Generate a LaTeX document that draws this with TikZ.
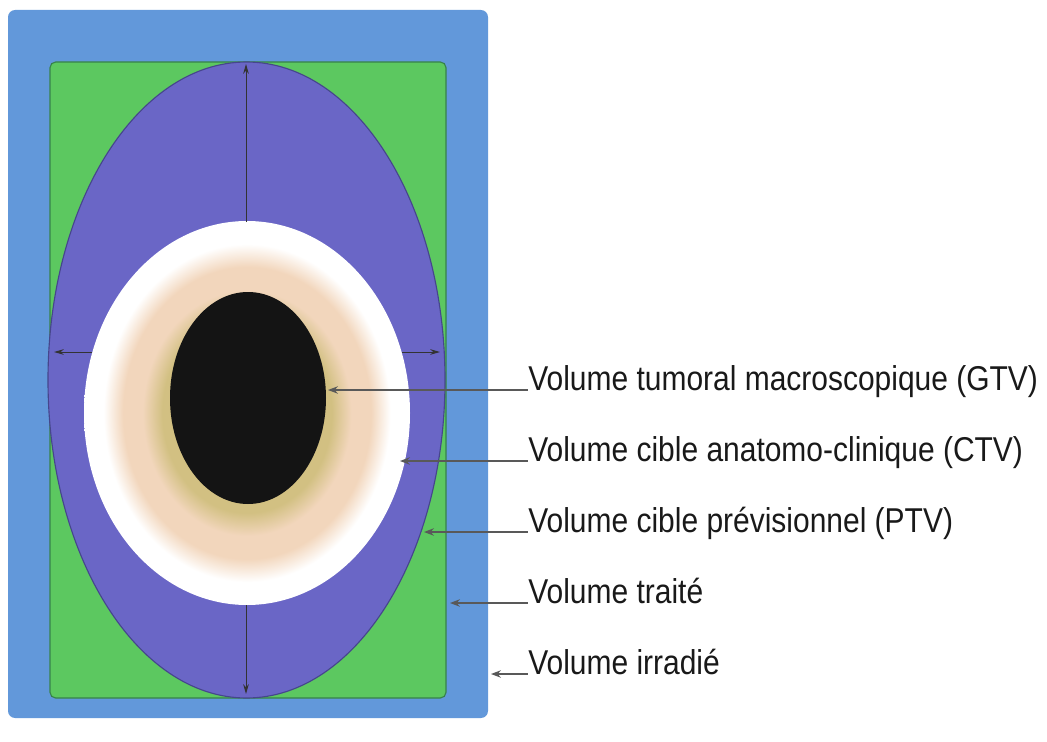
\documentclass[tikz,border=0pt]{standalone}
\usepackage{fontspec}
\setmainfont{Liberation Sans}
\newfontfamily\labfont[FakeStretch=0.87]{Liberation Sans}
\usepackage{xcolor}
\usetikzlibrary{arrows.meta}
\definecolor{irrblue}{RGB}{98,152,218}
\definecolor{tvgreen}{RGB}{92,200,96}
\definecolor{tvedge}{RGB}{55,130,75}
\definecolor{ptvpurple}{RGB}{106,102,198}
\definecolor{ptvedge}{RGB}{70,70,140}
\definecolor{ochre}{RGB}{210,192,130}
\definecolor{peach}{RGB}{242,214,188}
\pgfdeclareradialshading{ctvring}{\pgfpoint{0bp}{0bp}}{color(0bp)=(ochre);color(13bp)=(ochre);color(16bp)=(peach);color(19bp)=(peach);color(22bp)=(white);color(25bp)=(white);color(50bp)=(white)}

\begin{document}
\begin{tikzpicture}[x=0.025cm,y=-0.025cm,>=Stealth,
  lab/.style={inner sep=0pt,anchor=base west,font=\labfont\fontsize{24.5}{28}\selectfont,text=black!90},
  lead/.style={<-,black!65,line width=0.9pt},
  margin/.style={-{Stealth[length=7pt,width=4pt]},black!80,line width=0.7pt}]
\useasboundingbox (0,0) rectangle (1047,742);
\fill[irrblue,rounded corners=5pt] (8,10) rectangle (488,718);
\filldraw[fill=tvgreen,draw=tvedge,line width=0.8pt,rounded corners=4pt] (50,62) rectangle (446,698);
\filldraw[fill=ptvpurple,draw=ptvedge,line width=0.8pt] (246.5,380) ellipse [x radius=198.5, y radius=318];
\shade[shading=ctvring] (247,413) ellipse [x radius=163, y radius=192];
\fill[black!92] (248,398) ellipse [x radius=78, y radius=106];
\draw[margin] (246,222)--(246,64);
\draw[margin] (246,605)--(246,694);
\draw[margin] (92,352)--(54,352);
\draw[margin] (402,352)--(440,352);
\coordinate (gtvtip) at (328,390);
\coordinate (ctvtip) at (400,461);
\coordinate (ptvtip) at (424,532);
\coordinate (tvtip) at (450,603);
\coordinate (ivtip) at (491,674);
\node[lab] (gtv) at (528,390) {Volume tumoral macroscopique (GTV)};
\node[lab] (ctv) at (528,461) {Volume cible anatomo-clinique (CTV)};
\node[lab] (ptv) at (528,532) {Volume cible prévisionnel (PTV)};
\node[lab] (tv) at (528,603) {Volume traité};
\node[lab] (iv) at (528,674) {Volume irradié};
\draw[lead] (gtvtip)--(gtv.base west);
\draw[lead] (ctvtip)--(ctv.base west);
\draw[lead] (ptvtip)--(ptv.base west);
\draw[lead] (tvtip)--(tv.base west);
\draw[lead] (ivtip)--(iv.base west);
\end{tikzpicture}
\end{document}
